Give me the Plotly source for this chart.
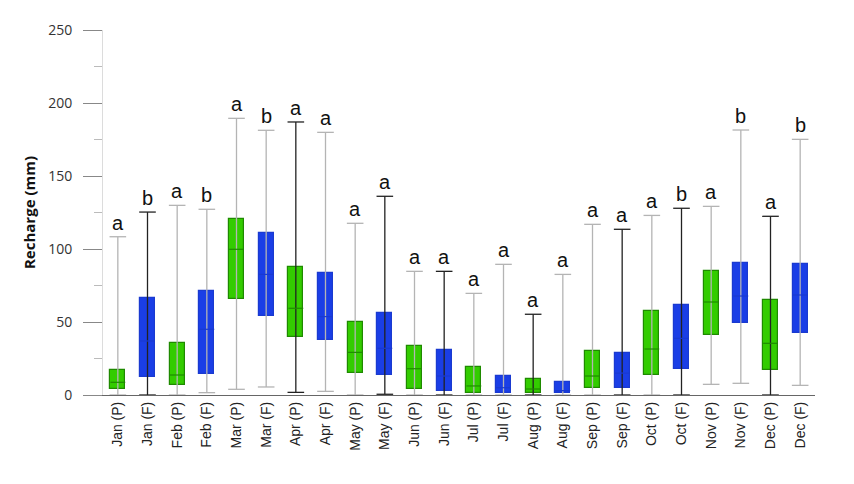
import plotly.graph_objects as go

# --- data ---
labels = ["Jan (P)", "Jan (F)", "Feb (P)", "Feb (F)", "Mar (P)", "Mar (F)",
          "Apr (P)", "Apr (F)", "May (P)", "May (F)", "Jun (P)", "Jun (F)",
          "Jul (P)", "Jul (F)", "Aug (P)", "Aug (F)", "Sep (P)", "Sep (F)",
          "Oct (P)", "Oct (F)", "Nov (P)", "Nov (F)", "Dec (P)", "Dec (F)"]
whisk_low = [0, 0, 0, 1.6, 3.9, 5.5, 1.8, 2.5, 0, 0.5, 0, 0,
             0, 0, 0, 0, 0, 0, 0, 0, 7.3, 8, 0, 6.6]
q1 = [4.1, 12.1, 6.6, 14.2, 66.0, 54.1, 40.0, 37.9, 14.8, 13.5, 3.9, 2.5,
      1.1, 1.1, 1.6, 1.6, 5.0, 5.0, 13.5, 17.6, 41.3, 49.1, 16.9, 42.7]
median = [8.7, 37, 13.7, 45, 99.8, 82.6, 59.4, 53.7, 29.2, 32, 18, 13,
          6.2, 5, 4.1, 3, 13, 15, 31.5, 38.8, 63.7, 67.8, 35.4, 68.5]
q3 = [17.1, 66.2, 35.4, 71.4, 120.3, 110.7, 87.9, 83.6, 49.8, 55.9, 33.6, 30.8,
      19.4, 13, 10.7, 8.7, 30.1, 29, 57.5, 61.4, 85.2, 90.4, 64.8, 89.5]
whisk_high = [108.4, 125.3, 129.9, 127.2, 189.5, 181.3, 187, 179.9, 117.6, 136.1,
              84.7, 84.7, 69.6, 89.5, 55.3, 82.6, 116.9, 113.5, 123, 127.9,
              129.2, 181.5, 122.4, 175.1]
letters = ["a", "b", "a", "b", "a", "b", "a", "a", "a", "a", "a", "a",
           "a", "a", "a", "a", "a", "a", "a", "b", "a", "b", "a", "b"]

# style: which whiskers are drawn dark
dark_whisker = [False, True, False, False, False, False, True, False, False, True,
                False, True, False, False, True, False, False, True, False, True,
                False, False, True, False]

GREEN, GREEN_EDGE = "#33cc00", "#1f8a00"
BLUE, BLUE_EDGE = "#1a3ee6", "#1a3ad0"
half_box, half_cap = 0.25, 0.28

xs = list(range(len(labels)))
is_p = [lab.endswith("(P)") for lab in labels]

fig = go.Figure()

# whiskers + caps, grouped by colour
for dark, col in [(False, "#b4b4b4"), (True, "#222222")]:
    wx, wy = [], []
    for i in xs:
        if dark_whisker[i] != dark:
            continue
        wx += [i, i, None, i - half_cap, i + half_cap, None, i - half_cap, i + half_cap, None]
        wy += [whisk_low[i], whisk_high[i], None, whisk_high[i], whisk_high[i], None,
               whisk_low[i], whisk_low[i], None]
    fig.add_trace(go.Scatter(x=wx, y=wy, mode="lines", line=dict(color=col, width=1.3),
                             hoverinfo="skip", showlegend=False))

# boxes
for flag, fill, edge in [(True, GREEN, GREEN_EDGE), (False, BLUE, BLUE_EDGE)]:
    idx = [i for i in xs if is_p[i] == flag]
    fig.add_trace(go.Bar(
        x=idx, base=[q1[i] for i in idx], y=[q3[i] - q1[i] for i in idx],
        width=2 * half_box, marker=dict(color=fill, line=dict(color=edge, width=1.2)),
        showlegend=False,
    ))
    mx, my = [], []
    for i in idx:
        mx += [i - half_box, i + half_box, None]
        my += [median[i], median[i], None]
    fig.add_trace(go.Scatter(x=mx, y=my, mode="lines",
                             line=dict(color=edge, width=1.2),
                             hoverinfo="skip", showlegend=False))

# significance letters
for i in xs:
    fig.add_annotation(x=i, y=whisk_high[i], text=letters[i], showarrow=False,
                       yanchor="bottom", yshift=1,
                       font=dict(family="Liberation Sans, Arial", size=20, color="#111"))

fig.update_layout(
    width=854, height=484,
    margin=dict(l=95, r=47, t=22, b=97),
    plot_bgcolor="white", paper_bgcolor="white",
    barmode="overlay", bargap=0,
    xaxis=dict(
        range=[-0.5, 23.5], tickmode="array", tickvals=xs, ticktext=labels,
        tickangle=-90, showgrid=False, zeroline=False,
        showline=True, linecolor="#666", linewidth=1.3,
        tickfont=dict(family="Liberation Sans, Arial", size=14, color="#222"),
    ),
    yaxis=dict(
        range=[0, 250], dtick=50, showgrid=False, zeroline=False,
        showline=True, linecolor="#dcdcdc", linewidth=1,
        ticks="outside", ticklen=19, tickcolor="#888", ticklabelstandoff=8,
        minor=dict(dtick=25, ticks="outside", ticklen=8, tickcolor="#bbb"),
        tickfont=dict(family="Open Sans, sans-serif", size=14, color="#333"),
        title=dict(text="<b>Recharge (mm)</b>", standoff=8,
                   font=dict(family="Open Sans, sans-serif", size=15, color="#111")),
    ),
)

fig.write_html("out.html")
